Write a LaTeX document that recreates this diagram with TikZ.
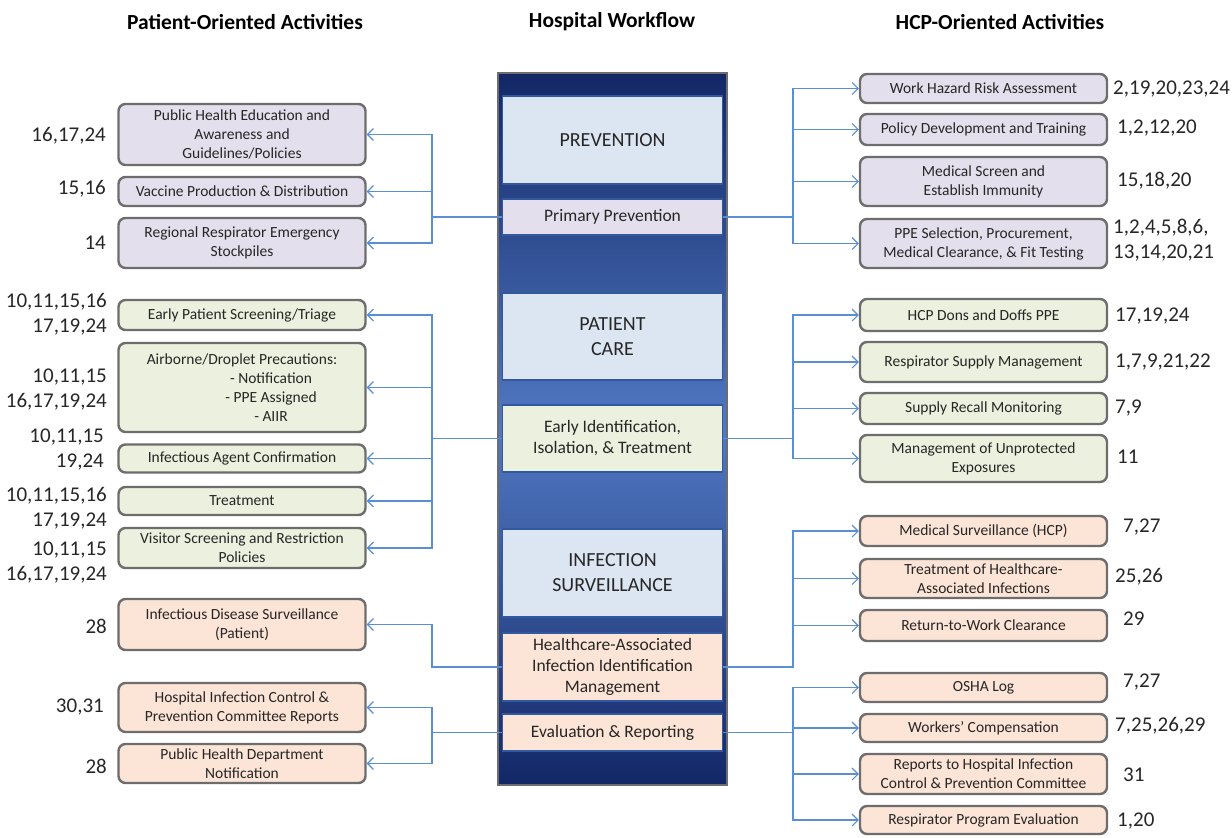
\documentclass[tikz,border=0pt]{standalone}
\usepackage{fontspec}
\setmainfont{Carlito}
\usetikzlibrary{arrows.meta}

\definecolor{boxgray}{HTML}{6D6D6D}
\definecolor{lilac}{HTML}{E4DFEC}
\definecolor{sage}{HTML}{EBF1DE}
\definecolor{peach}{HTML}{FCE4D6}
\definecolor{stagefill}{HTML}{DCE6F2}
\definecolor{stageline}{HTML}{31599F}
\definecolor{navy}{HTML}{132766}
\definecolor{midblue}{HTML}{5179C3}
\definecolor{linkblue}{HTML}{5B8FD4}
\definecolor{txt}{HTML}{262626}

\tikzset{
  actbox/.style={draw=boxgray, line width=2.4pt, rounded corners=7pt, align=center,
    inner sep=1pt, minimum width=247pt, text=txt, font=\fontsize{15.5}{19}\selectfont},
  lilacbox/.style={actbox, fill=lilac},
  sagebox/.style={actbox, fill=sage},
  peachbox/.style={actbox, fill=peach},
  stage/.style={draw=stageline, line width=1.6pt, fill=stagefill, minimum width=220pt,
    align=center, text=txt, font=\fontsize{20}{25}\selectfont},
  substage/.style={stage, font=\fontsize{17.5}{21}\selectfont},
  refs/.style={inner sep=0pt, text=txt, font=\fontsize{21}{25}\selectfont},
  head/.style={inner sep=0pt, font=\fontsize{21.5}{24}\selectfont\bfseries},
  link/.style={draw=linkblue, line width=1.1pt, -{Straight Barb[length=6pt,width=12pt]}}
}

\begin{document}
\begin{tikzpicture}[x=1pt, y=-1pt]
\useasboundingbox (0,0) rectangle (1232,838);

\node[head] (hpat) at (245,22) {Patient-Oriented Activities};
\node[head] (hhosp) at (612,22) {Hospital Workflow};
\node[head] (hhcp) at (1000,22) {HCP-Oriented Activities};

% hospital workflow column
\shade[top color=navy, bottom color=navy, middle color=midblue] (498,73) rectangle (727,785);
\draw[boxgray, line width=1.5pt] (498,73) rectangle (727,785);
\node[stage, minimum height=88pt] (prev) at (612.5,140) {PREVENTION};
\node[substage, fill=lilac, minimum height=36pt] (pp) at (612.5,217) {Primary Prevention};
\node[stage, minimum height=87pt] (care) at (612.5,336.5) {PATIENT\\CARE};
\node[substage, fill=sage, minimum height=67pt] (eit) at (612.5,438.5) {Early Identification,\\Isolation, \& Treatment};
\node[stage, minimum height=88pt] (surv) at (612.5,573) {INFECTION\\SURVEILLANCE};
\node[substage, fill=peach, minimum height=68pt] (hai) at (612.5,667) {Healthcare-Associated\\Infection Identification\\Management};
\node[substage, fill=peach, minimum height=37pt] (eval) at (612.5,732.5) {Evaluation \& Reporting};

% patient-oriented activities
\node[lilacbox, minimum height=61pt] (pub) at (242,134.5) {Public Health Education and\\Awareness and\\Guidelines/Policies};
\node[lilacbox, minimum height=29pt] (vac) at (242,191.5) {Vaccine Production \& Distribution};
\node[lilacbox, minimum height=50pt] (reg) at (242,243) {Regional Respirator Emergency\\Stockpiles};
\node[sagebox, minimum height=30pt] (scr) at (242,315) {Early Patient Screening/Triage};
\node[sagebox, minimum height=89pt] (air) at (242,387.5) {Airborne/Droplet Precautions:\\\hspace*{58pt}- Notification\\\hspace*{58pt}- PPE Assigned\\\hspace*{58pt}- AIIR};
\node[sagebox, minimum height=28pt] (agent) at (242,458.5) {Infectious Agent Confirmation};
\node[sagebox, minimum height=28pt] (treat) at (242,501) {Treatment};
\node[sagebox, minimum height=40pt] (vis) at (242,548) {Visitor Screening and Restriction\\Policies};
\node[peachbox, minimum height=51pt] (ids) at (242,624.5) {Infectious Disease Surveillance\\(Patient)};
\node[peachbox, minimum height=49pt] (hic) at (242,707.5) {Hospital Infection Control \&\\Prevention Committee Reports};
\node[peachbox, minimum height=39pt] (phd) at (242,763.5) {Public Health Department\\Notification};

\node[refs, anchor=east] (pubn) at (106,136) {16,17,24};
\node[refs, anchor=east] (vacn) at (106,189) {15,16};
\node[refs, anchor=east] (regn) at (106,243) {14};
\node[refs, anchor=east, align=right] (scrn) at (107,314.5) {10,11,15,16\\17,19,24};
\node[refs, anchor=east, align=right] (airn) at (107,389.5) {10,11,15\\16,17,19,24};
\node[refs, anchor=east, align=right] (agentn) at (104,450) {10,11,15\\19,24};
\node[refs, anchor=east, align=right] (treatn) at (107,508) {10,11,15,16\\17,19,24};
\node[refs, anchor=east, align=right] (visn) at (107,563) {10,11,15\\16,17,19,24};
\node[refs, anchor=east] (idsn) at (107,626) {28};
\node[refs, anchor=east] (hicn) at (104,707) {30,31};
\node[refs, anchor=east] (phdn) at (107,766) {28};

% hcp-oriented activities
\node[lilacbox, minimum height=29pt] (whr) at (983.5,88.5) {Work Hazard Risk Assessment};
\node[lilacbox, minimum height=31pt] (pol) at (983.5,129.5) {Policy Development and Training};
\node[lilacbox, minimum height=49pt] (med) at (983.5,181.5) {Medical Screen and\\Establish Immunity};
\node[lilacbox, minimum height=49pt] (ppe) at (983.5,243.5) {PPE Selection, Procurement,\\Medical Clearance, \& Fit Testing};
\node[sagebox, minimum height=32pt] (don) at (983.5,315) {HCP Dons and Doffs PPE};
\node[sagebox, minimum height=40pt] (rsm) at (983.5,362) {Respirator Supply Management};
\node[sagebox, minimum height=31pt] (rec) at (983.5,408.5) {Supply Recall Monitoring};
\node[sagebox, minimum height=47pt] (unp) at (983.5,458.5) {Management of Unprotected\\Exposures};
\node[peachbox, minimum height=30pt] (msv) at (983.5,531) {Medical Surveillance (HCP)};
\node[peachbox, minimum height=39pt] (thai) at (983.5,578.5) {Treatment of Healthcare-\\Associated Infections};
\node[peachbox, minimum height=31pt] (rtw) at (983.5,625.5) {Return-to-Work Clearance};
\node[peachbox, minimum height=29pt] (osha) at (983.5,687.5) {OSHA Log};
\node[peachbox, minimum height=28pt] (wc) at (983.5,728) {Workers' Compensation};
\node[peachbox, minimum height=40pt] (rep) at (983.5,774) {Reports to Hospital Infection\\Control \& Prevention Committee};
\node[peachbox, minimum height=28pt] (rpe) at (983.5,820) {Respirator Program Evaluation};

\node[refs, anchor=west] (whrn) at (1113,89) {2,19,20,23,24};
\node[refs, anchor=west] (poln) at (1117,128) {1,2,12,20};
\node[refs, anchor=west] (medn) at (1117,181) {15,18,20};
\node[refs, anchor=west, align=left] (ppen) at (1113,240.5) {1,2,4,5,8,6,\\13,14,20,21};
\node[refs, anchor=west] (donn) at (1115,316) {17,19,24};
\node[refs, anchor=west] (rsmn) at (1115,362) {1,7,9,21,22};
\node[refs, anchor=west] (recn) at (1115,408) {7,9};
\node[refs, anchor=west] (unpn) at (1117,457) {11};
\node[refs, anchor=west] (msvn) at (1123,527) {7,27};
\node[refs, anchor=west] (thain) at (1115,577) {25,26};
\node[refs, anchor=west] (rtwn) at (1123,619) {29};
\node[refs, anchor=west] (oshan) at (1123,682) {7,27};
\node[refs, anchor=west] (wcn) at (1115,726) {7,25,26,29};
\node[refs, anchor=west] (repn) at (1123,775) {31};
\node[refs, anchor=west] (rpen) at (1117,821) {1,20};

% connectors
\coordinate (lt) at (432,0);
\coordinate (rt) at (793,0);
\draw[link] (pp.west) -- (pp.west -| lt) |- (pub.east);
\draw[link] (pp.west) -- (pp.west -| lt) |- (vac.east);
\draw[link] (pp.west) -- (pp.west -| lt) |- (reg.east);
\draw[link] (eit.west) -- (eit.west -| lt) |- (scr.east);
\draw[link] (eit.west) -- (eit.west -| lt) |- (air.east);
\draw[link] (eit.west) -- (eit.west -| lt) |- (agent.east);
\draw[link] (eit.west) -- (eit.west -| lt) |- (treat.east);
\draw[link] (eit.west) -- (eit.west -| lt) |- (vis.east);
\draw[link] (hai.west) -- (hai.west -| lt) |- (ids.east);
\draw[link] (eval.west) -- (eval.west -| lt) |- (hic.east);
\draw[link] (eval.west) -- (eval.west -| lt) |- (phd.east);

\draw[link] (pp.east) -- (pp.east -| rt) |- (whr.west);
\draw[link] (pp.east) -- (pp.east -| rt) |- (pol.west);
\draw[link] (pp.east) -- (pp.east -| rt) |- (med.west);
\draw[link] (pp.east) -- (pp.east -| rt) |- (ppe.west);
\draw[link] (eit.east) -- (eit.east -| rt) |- (don.west);
\draw[link] (eit.east) -- (eit.east -| rt) |- (rsm.west);
\draw[link] (eit.east) -- (eit.east -| rt) |- (rec.west);
\draw[link] (eit.east) -- (eit.east -| rt) |- (unp.west);
\draw[link] (hai.east) -- (hai.east -| rt) |- (msv.west);
\draw[link] (hai.east) -- (hai.east -| rt) |- (thai.west);
\draw[link] (hai.east) -- (hai.east -| rt) |- (rtw.west);
\draw[link] (eval.east) -- (eval.east -| rt) |- (osha.west);
\draw[link] (eval.east) -- (eval.east -| rt) |- (wc.west);
\draw[link] (eval.east) -- (eval.east -| rt) |- (rep.west);
\draw[link] (eval.east) -- (eval.east -| rt) |- (rpe.west);
\end{tikzpicture}
\end{document}
